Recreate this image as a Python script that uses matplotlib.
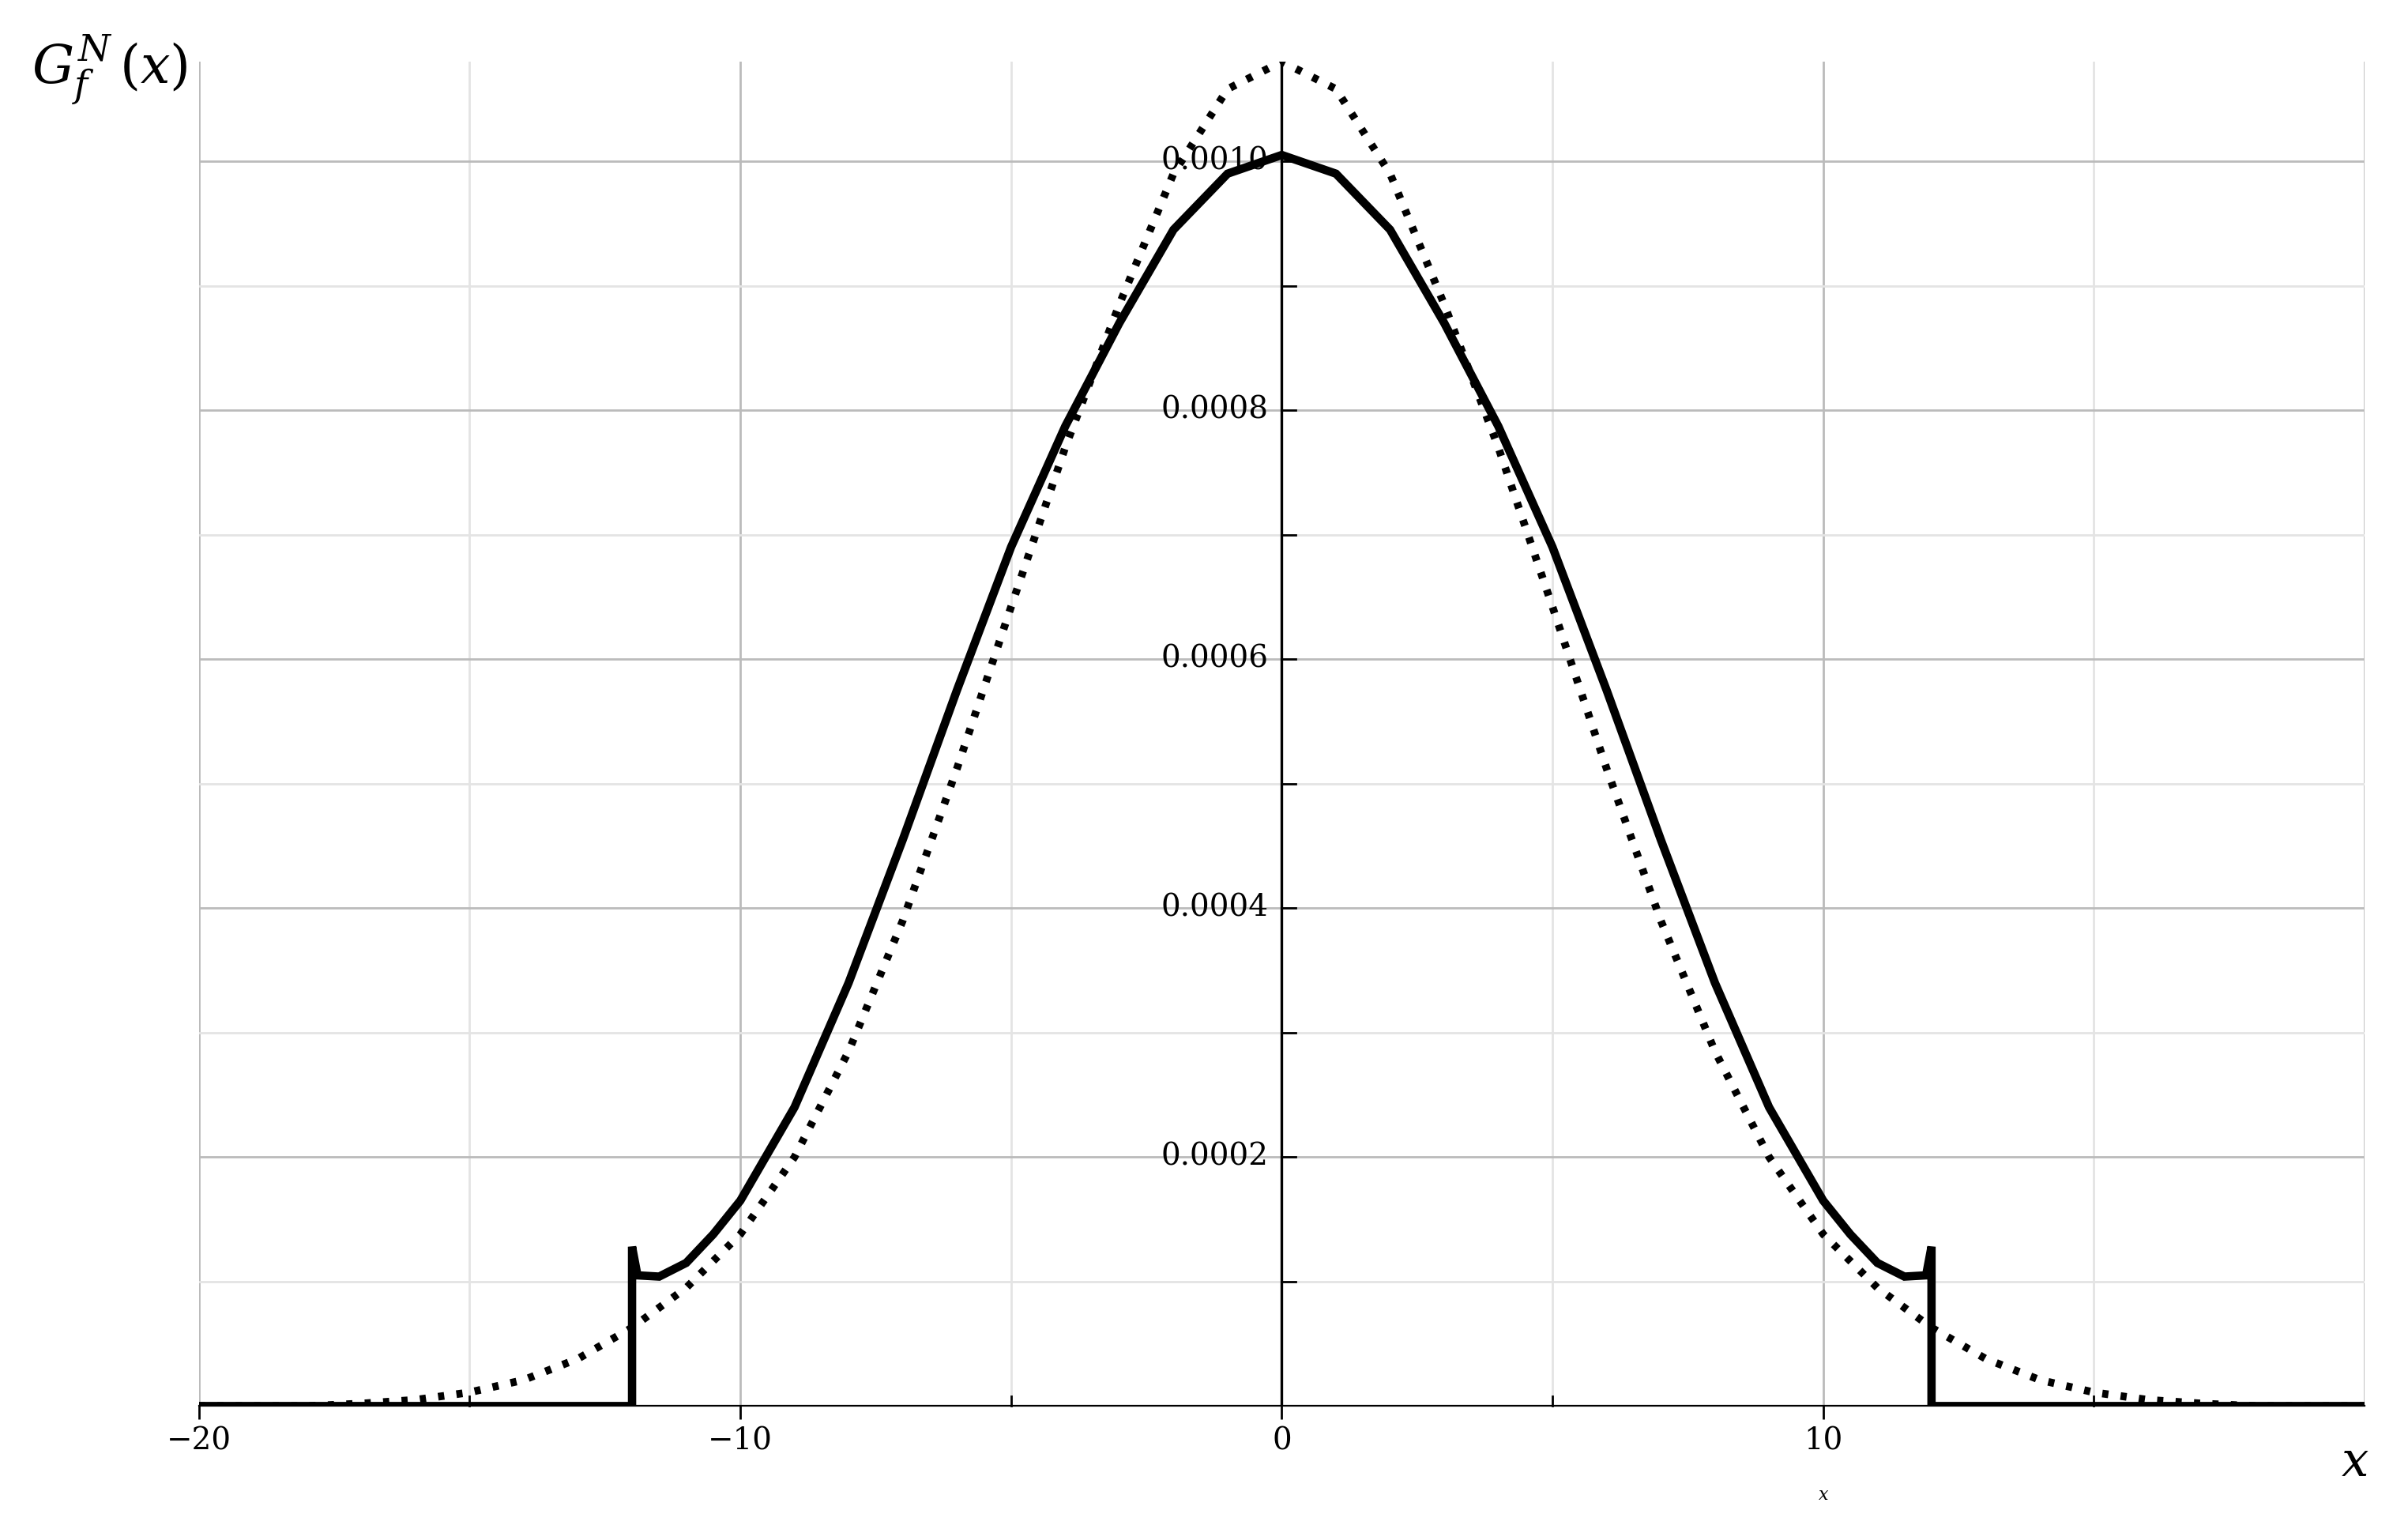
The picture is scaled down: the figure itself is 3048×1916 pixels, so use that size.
import matplotlib
matplotlib.use("Agg")
import matplotlib.pyplot as plt
import numpy as np

# solid curve (right half, mirrored)
sol_x = [0, 1, 2, 3, 4, 5, 6, 7, 8, 9, 10, 10.5, 11.0, 11.5, 11.9, 12.0]
sol_y = [1.005, 0.990, 0.945, 0.870, 0.787, 0.690, 0.575, 0.455, 0.340, 0.240, 0.165, 0.138, 0.115, 0.104, 0.105, 0.128]
# dotted curve (right half, mirrored)
dot_x = [0, 1, 2, 3, 4, 5, 6, 7, 8, 9, 10, 11, 12, 13, 14, 15, 16, 17, 18, 20]
dot_y = [1.080, 1.058, 0.990, 0.885, 0.770, 0.642, 0.512, 0.390, 0.285, 0.200, 0.138, 0.095, 0.063, 0.038, 0.021, 0.011, 0.005, 0.002, 0.0, 0.0]
yticks = [0.0002, 0.0004, 0.0006, 0.0008, 0.0010]
xticks = [-20, -10, 10]

def mirror(xs, ys):
    xs = np.array(xs); ys = np.array(ys) * 1e-3
    return np.concatenate([-xs[::-1], xs[1:]]), np.concatenate([ys[::-1], ys[1:]])

sx, sy = mirror(sol_x, sol_y)
sx = np.concatenate([[-20, -12], sx, [12, 20]])
sy = np.concatenate([[0, 0], sy, [0, 0]])
dx, dy = mirror(dot_x, dot_y)

plt.rcParams['font.family'] = ['DejaVu Serif']
fig = plt.figure(figsize=(15.24, 9.58), dpi=200)
ax = fig.add_axes([0.0826, 0.0713, 0.8994, 0.888])
ax.set_xlim(-20, 20)
ax.set_ylim(0, 0.00108)

for v in np.arange(-20, 21, 5):
    ax.axvline(v, color='#bbbbbb' if v % 10 == 0 else '#e4e4e4', lw=1.0, zorder=0)
for v in np.arange(0.0001, 0.00105, 0.0001):
    ax.axhline(v, color='#bbbbbb' if round(v * 1e4) % 2 == 0 else '#e4e4e4', lw=1.0, zorder=0)

ax.plot(dx, dy, color='black', lw=3.5, ls=(0, (0.8, 1.6)), zorder=3)
ax.plot(sx, sy, color='black', lw=3.8, zorder=4, solid_joinstyle='miter')

for s in ['top', 'right', 'left']:
    ax.spines[s].set_visible(False)
ax.spines['bottom'].set_color('black')
ax.axvline(0, color='black', lw=1.2, zorder=2)
ax.set_xticks(xticks + [0])
ax.set_xticklabels(['\u221220', '\u221210', '10', '0'], fontsize=14)
ax.tick_params(axis='x', length=6, width=1, direction='out')
ax.set_yticks([])
for i, v in enumerate(yticks):
    ax.text(-0.25, v, f"{v:.4f}", ha='right', va='center', fontsize=14, zorder=5)
for v in np.arange(0.0001, 0.00105, 0.0001):
    ax.plot([0, 0.25], [v, v], color='black', lw=1, zorder=2)
for v in [-15, -5, 5, 15]:
    ax.plot([v, v], [0, 0.000008], color='black', lw=1, clip_on=False)

fig.text(0.013, 0.945, r"$G_f^N\,(x)$", fontsize=24, family='DejaVu Serif', math_fontfamily='dejavuserif')
fig.text(0.972, 0.025, r"$x$", fontsize=22, math_fontfamily='dejavuserif')
ax.text(10, -0.000075, r"$x$", ha='center', fontsize=8, math_fontfamily='dejavuserif')

fig.savefig("out.png", dpi=200, facecolor='white')
